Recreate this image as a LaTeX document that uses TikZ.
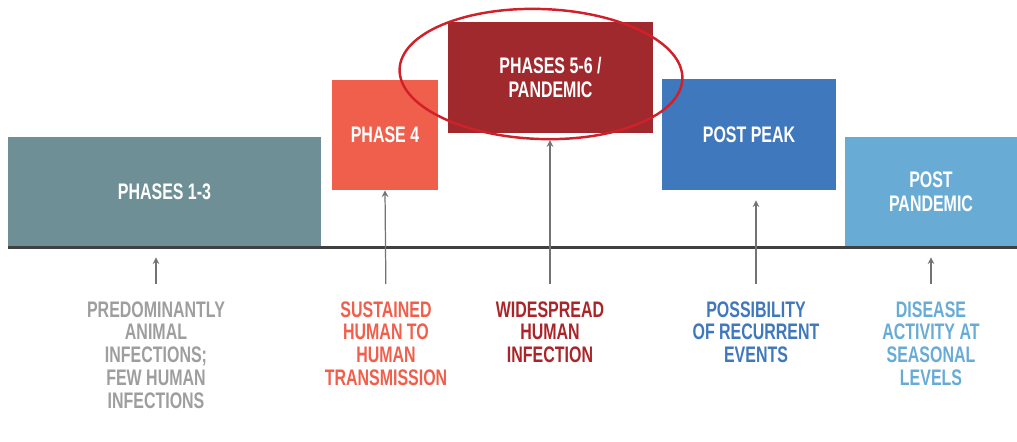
\documentclass[tikz,border=0pt]{standalone}
\usepackage{fontspec}
\setmainfont[FakeStretch=0.71]{Liberation Sans}
\usetikzlibrary{shapes.geometric, arrows}
\definecolor{cgrey}{HTML}{6E8F96}
\definecolor{corange}{HTML}{F05F4B}
\definecolor{cred}{HTML}{A0292E}
\definecolor{cblue}{HTML}{3F78BC}
\definecolor{clight}{HTML}{68ACD6}
\definecolor{cring}{HTML}{D0202A}
\tikzstyle{arrow} = [line width=0.7pt, ->, >=stealth, draw=black!55]
\tikzstyle{block} = [rectangle, inner sep=0pt, text=white, align=center, font=\bfseries\fontsize{12.8}{13.5}\selectfont]
\tikzstyle{note} = [anchor=north, inner sep=0pt, align=center, font=\bfseries\fontsize{12.8}{13}\selectfont]

\begin{document}
\begin{tikzpicture}[x=0.02cm, y=-0.02cm]
		\useasboundingbox (0,0) rectangle (1017,441);
		\node(b0) [block, fill=cgrey, minimum width=6.26cm, minimum height=2.2cm] at (164.5,192) {PHASES 1-3};
		\node(b1) [block, fill=corange, minimum width=2.12cm, minimum height=2.2cm] at (385,135) {PHASE 4};
		\node(b2) [block, fill=cred, minimum width=4.1cm, minimum height=2.22cm] at (550.5,77.5) {PHASES 5-6 /\\PANDEMIC};
		\node(b3) [block, fill=cblue, minimum width=3.48cm, minimum height=2.22cm] at (749,134.5) {POST PEAK};
		\node(b4) [block, fill=clight, minimum width=3.44cm, minimum height=2.2cm] at (931,192) {POST\\PANDEMIC};
		\draw [line width=1.8pt, draw=black!75] (b0.south west) -- (b4.south east);
		\node(ring) [ellipse, draw=cring, line width=1.4pt, minimum width=5.66cm, minimum height=2.6cm, rotate=-2] at (541,74) {};
		\node(l0) [note, text=black!38] at (156,301) {PREDOMINANTLY\\ANIMAL\\INFECTIONS;\\FEW HUMAN\\INFECTIONS};
		\node(l1) [note, text=corange] at (386,301) {SUSTAINED\\HUMAN TO\\HUMAN\\TRANSMISSION};
		\node(l2) [note, text=cred!90!red] at (550,301) {WIDESPREAD\\HUMAN\\INFECTION};
		\node(l3) [note, text=cblue] at (756,301) {POSSIBILITY\\OF RECURRENT\\EVENTS};
		\node(l4) [note, text=clight] at (931,301) {DISEASE\\ACTIVITY AT\\SEASONAL\\LEVELS};
		\draw [arrow, shorten <=0.34cm, shorten >=0.2cm] (l0.north) -- (l0.north |- b0.south);
		\draw [arrow, shorten <=0.34cm] (l1.north) -- (b1.south);
		\draw [arrow, shorten <=0.34cm] (l2.north) -- (l2.north |- ring.south);
		\draw [arrow, shorten <=0.34cm, shorten >=0.2cm] (l3.north) -- (l3.north |- b3.south);
		\draw [arrow, shorten <=0.34cm, shorten >=0.2cm] (l4.north) -- (l4.north |- b4.south);
	\end{tikzpicture}
\end{document}
